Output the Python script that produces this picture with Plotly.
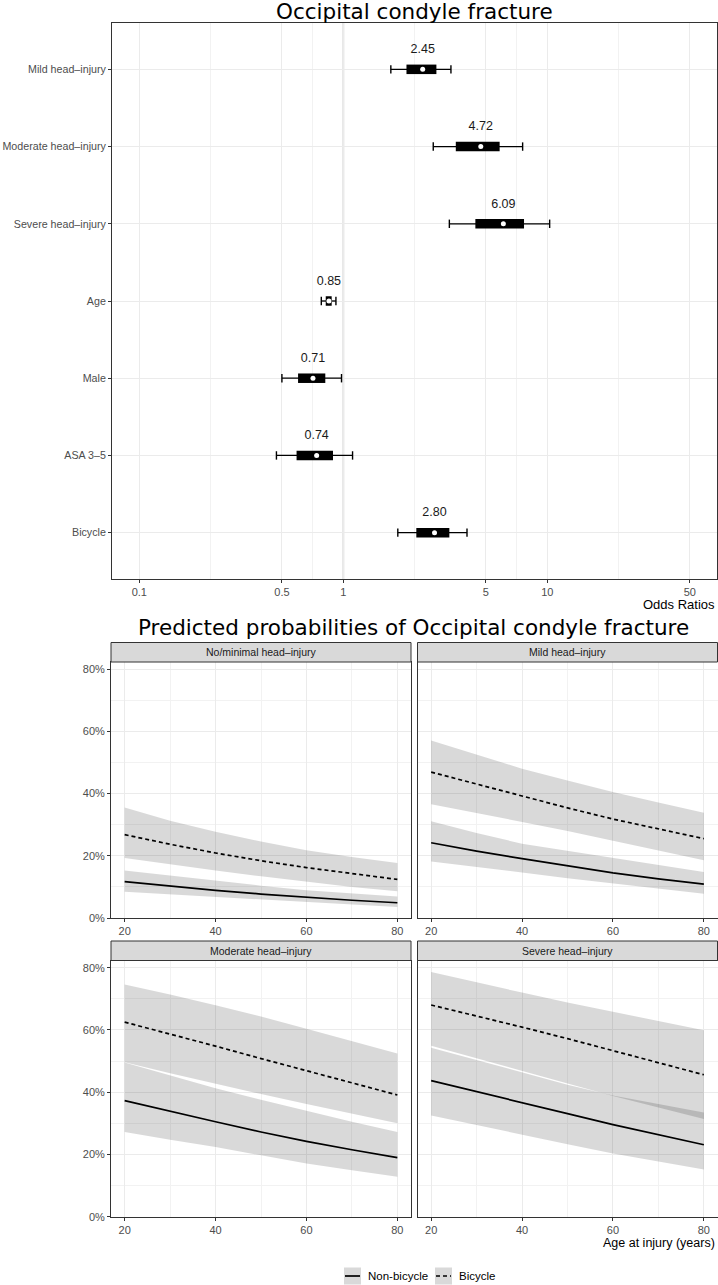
import math
import plotly.graph_objects as go

W, H = 718, 1285
SANS = "Liberation Sans, Arial, Helvetica, sans-serif"
TITLEFONT = "DejaVu Sans, Verdana, sans-serif"

# ---------------- Forest plot data (odds ratios) ----------------
terms = ["Mild head–injury", "Moderate head–injury", "Severe head–injury",
         "Age", "Male", "ASA 3–5", "Bicycle"]
odds_ratio = [2.45, 4.72, 6.09, 0.85, 0.71, 0.74, 2.80]
ci95_low = [1.71, 2.76, 3.31, 0.78, 0.50, 0.47, 1.85]
ci95_high = [3.37, 7.57, 10.27, 0.92, 0.98, 1.11, 4.04]
ci50_low = [2.04, 3.56, 4.44, 0.82, 0.60, 0.59, 2.28]
ci50_high = [2.86, 5.84, 7.69, 0.877, 0.816, 0.89, 3.31]
or_ticks = [0.1, 0.5, 1, 5, 10, 50]
or_ticklabels = ["0.1", "0.5", "1", "5", "10", "50"]
REF_OR = 1

# ---------------- Predicted probabilities (%) ----------------
ages = [20, 30, 40, 50, 60, 70, 80]
panel_titles = ["No/minimal head–injury", "Mild head–injury",
                "Moderate head–injury", "Severe head–injury"]

nomin_nb = [11.7, 10.2, 8.9, 7.7, 6.6, 5.7, 4.9]
nomin_nb_lo = [8.4, 7.4, 6.6, 5.8, 5.1, 4.3, 3.5]
nomin_nb_hi = [15.3, 13.6, 12.1, 10.4, 8.9, 7.9, 6.9]
nomin_bi = [26.8, 23.7, 20.9, 18.4, 16.2, 14.2, 12.4]
nomin_bi_lo = [19.3, 17.2, 15.3, 13.4, 11.6, 10.0, 8.6]
nomin_bi_hi = [35.5, 31.3, 27.7, 24.6, 21.8, 19.6, 17.7]

mild_nb = [24.2, 21.5, 19.1, 16.7, 14.5, 12.6, 10.9]
mild_nb_lo = [18.2, 16.3, 14.6, 12.8, 11.1, 9.4, 7.8]
mild_nb_hi = [31.1, 27.3, 23.9, 21.6, 19.4, 17.0, 14.8]
mild_bi = [46.9, 43.0, 39.1, 35.4, 31.8, 28.6, 25.5]
mild_bi_lo = [36.6, 33.7, 30.9, 28.0, 25.0, 21.8, 18.6]
mild_bi_hi = [57.1, 52.5, 48.0, 44.2, 40.5, 37.1, 33.8]

mod_nb = [37.3, 33.8, 30.5, 27.2, 24.2, 21.5, 19.0]
mod_nb_lo = [27.2, 24.7, 22.4, 19.7, 17.1, 14.9, 12.8]
mod_nb_hi = [49.5, 45.5, 41.3, 37.6, 34.0, 30.5, 27.2]
mod_bi = [62.5, 58.7, 54.8, 50.8, 46.9, 42.9, 39.1]
mod_bi_lo = [49.6, 46.1, 42.7, 39.4, 36.2, 33.0, 30.0]
mod_bi_hi = [74.6, 71.4, 67.9, 64.3, 60.4, 56.5, 52.4]

sev_nb = [43.7, 40.1, 36.6, 33.1, 29.6, 26.3, 23.1]
sev_nb_lo = [32.5, 29.3, 26.3, 23.3, 20.3, 17.7, 15.2]
sev_nb_hi = [54.3, 50.3, 46.3, 42.4, 38.9, 36.1, 33.5]
sev_bi = [68.0, 64.5, 60.9, 57.2, 53.3, 49.5, 45.6]
sev_bi_lo = [54.9, 50.9, 46.8, 42.8, 38.8, 35.0, 31.4]
sev_bi_hi = [78.6, 75.2, 72.0, 68.8, 65.8, 62.8, 59.9]

panel_series = [
    (nomin_nb, nomin_nb_lo, nomin_nb_hi, nomin_bi, nomin_bi_lo, nomin_bi_hi),
    (mild_nb, mild_nb_lo, mild_nb_hi, mild_bi, mild_bi_lo, mild_bi_hi),
    (mod_nb, mod_nb_lo, mod_nb_hi, mod_bi, mod_bi_lo, mod_bi_hi),
    (sev_nb, sev_nb_lo, sev_nb_hi, sev_bi, sev_bi_lo, sev_bi_hi),
]
age_ticks = [20, 40, 60, 80]
age_minor = [30, 50, 70]
prob_ticks = [0, 0.2, 0.4, 0.6, 0.8]
prob_minor = [0.1, 0.3, 0.5, 0.7]
legend_labels = ["Non-bicycle", "Bicycle"]

# ---------------- helpers ----------------
def fx(px):
    return px / W


def fy(py):
    return 1 - py / H


GRID = "#ebebeb"
GRID_MINOR = "#f2f2f2"
BORDER = "#333333"
TICKTXT = "#4d4d4d"

fig = go.Figure()

# ---------------- Forest plot ----------------
rows = [len(terms) - i for i in range(len(terms))]

wx, wy, bx, by = [], [], [], []
for r, lo, hi, blo, bhi in zip(rows, ci95_low, ci95_high, ci50_low, ci50_high):
    wx += [lo, hi, None]
    wy += [r, r, None]
    bx += [blo, bhi, None]
    by += [r, r, None]

fig.add_trace(go.Scatter(x=wx, y=wy, mode="lines", line=dict(color="black", width=1.3),
                         xaxis="x", yaxis="y", showlegend=False, hoverinfo="skip"))
fig.add_trace(go.Scatter(x=ci95_low + ci95_high, y=rows + rows, mode="markers",
                         marker=dict(symbol="line-ns", size=6, color="black",
                                     line=dict(color="black", width=1.4)),
                         xaxis="x", yaxis="y", showlegend=False, hoverinfo="skip"))
fig.add_trace(go.Scatter(x=bx, y=by, mode="lines", line=dict(color="black", width=9.5),
                         xaxis="x", yaxis="y", showlegend=False, hoverinfo="skip"))
fig.add_trace(go.Scatter(x=odds_ratio, y=rows, mode="markers",
                         marker=dict(symbol="circle", size=5, color="white"),
                         xaxis="x", yaxis="y", showlegend=False,
                         hovertemplate="%{x:.2f}<extra></extra>"))
fig.add_trace(go.Scatter(x=odds_ratio, y=[r + 0.25 for r in rows], mode="text",
                         text=[f"{v:.2f}" for v in odds_ratio],
                         textfont=dict(family=SANS, size=12.5, color="#1a1a1a"),
                         xaxis="x", yaxis="y", showlegend=False, hoverinfo="skip"))

or_minor = [math.sqrt(a * b) for a, b in zip(or_ticks[:-1], or_ticks[1:])]

axis_common = dict(showline=True, mirror=True, linecolor=BORDER, linewidth=1,
                   ticks="outside", ticklen=3, tickcolor=BORDER, tickwidth=1,
                   gridcolor=GRID, gridwidth=1, zeroline=False, automargin=False,
                   tickfont=dict(family=SANS, size=11, color=TICKTXT))

layout = dict(
    width=W, height=H,
    margin=dict(l=0, r=0, t=0, b=0, pad=0),
    paper_bgcolor="white", plot_bgcolor="white",
    showlegend=False,
)
layout["xaxis"] = dict(axis_common, domain=[fx(112), fx(717)], anchor="y", type="log",
                       range=[-1.134, 1.832], tickvals=or_ticks, ticktext=or_ticklabels,
                       minor=dict(tickvals=or_minor, showgrid=True, gridcolor=GRID_MINOR,
                                  gridwidth=1, ticks=""))
layout["yaxis"] = dict(axis_common, domain=[fy(579), fy(23)], anchor="x",
                       range=[0.4, len(terms) + 0.6], tickvals=rows, ticktext=terms,
                       tickfont=dict(family=SANS, size=10.7, color=TICKTXT))

shapes = [dict(type="line", xref="x", yref="y domain", x0=REF_OR, x1=REF_OR, y0=0, y1=1,
               line=dict(color="#dedede", width=2), layer="below")]

annotations = [
    dict(text="Occipital condyle fracture", x=fx(414.5), y=fy(11.5), xref="paper", yref="paper",
         xanchor="center", yanchor="middle", showarrow=False,
         font=dict(family=TITLEFONT, size=21.5, color="black")),
    dict(text="Odds Ratios", x=fx(717), y=fy(604), xref="paper", yref="paper",
         xanchor="right", yanchor="middle", showarrow=False,
         font=dict(family=SANS, size=13, color="black")),
    dict(text="Predicted probabilities of Occipital condyle fracture", x=fx(414), y=fy(627),
         xref="paper", yref="paper", xanchor="center", yanchor="middle", showarrow=False,
         font=dict(family=TITLEFONT, size=21.5, color="black")),
    dict(text="Age at injury (years)", x=fx(717), y=fy(1243), xref="paper", yref="paper",
         xanchor="right", yanchor="middle", showarrow=False,
         font=dict(family=SANS, size=12.5, color="black")),
]

# ---------------- Facet panels ----------------
col_px = [(111, 411), (417.5, 717.5)]
row_px = [(662, 918), (960.5, 1216.7)]
strip_h = 19.5
RIBBON = "rgba(0,0,0,0.15)"

for i, (title, series) in enumerate(zip(panel_titles, panel_series)):
    n = i + 2
    c, r = i % 2, i // 2
    xa, ya = f"x{n}", f"y{n}"
    x0, x1 = col_px[c]
    y0, y1 = row_px[r]
    nb, nb_lo, nb_hi, bi, bi_lo, bi_hi = series

    for hi, lo in ((nb_hi, nb_lo), (bi_hi, bi_lo)):
        fig.add_trace(go.Scatter(x=ages + ages[::-1],
                                 y=[v / 100 for v in hi] + [v / 100 for v in lo[::-1]],
                                 mode="lines", fill="toself", fillcolor=RIBBON,
                                 line=dict(width=0), xaxis=xa, yaxis=ya,
                                 showlegend=False, hoverinfo="skip"))
    fig.add_trace(go.Scatter(x=ages, y=[v / 100 for v in nb], mode="lines",
                             line=dict(color="black", width=1.7),
                             xaxis=xa, yaxis=ya, name=legend_labels[0], showlegend=False))
    fig.add_trace(go.Scatter(x=ages, y=[v / 100 for v in bi], mode="lines",
                             line=dict(color="black", width=1.7, dash="4px,3px"),
                             xaxis=xa, yaxis=ya, name=legend_labels[1], showlegend=False))

    layout[f"xaxis{n}"] = dict(axis_common, domain=[fx(x0), min(1, fx(x1))], anchor=ya,
                               range=[17, 83], tickvals=age_ticks,
                               minor=dict(tickvals=age_minor, showgrid=True,
                                          gridcolor=GRID_MINOR, gridwidth=1, ticks=""))
    ycfg = dict(axis_common, domain=[fy(y1), fy(y0)], anchor=xa, range=[0, 0.823],
                tickvals=prob_ticks, tickformat=".0%",
                minor=dict(tickvals=prob_minor, showgrid=True, gridcolor=GRID_MINOR,
                           gridwidth=1, ticks=""))
    if c == 1:
        ycfg.update(showticklabels=False, ticks="")
    layout[f"yaxis{n}"] = ycfg

    shapes.append(dict(type="rect", xref="paper", yref="paper",
                       x0=fx(x0), x1=min(1, fx(x1)), y0=fy(y0), y1=fy(y0 - strip_h),
                       fillcolor="#d9d9d9", line=dict(color=BORDER, width=1), layer="above"))
    annotations.append(dict(text=title, x=fx((x0 + x1) / 2), y=fy(y0 - strip_h / 2),
                            xref="paper", yref="paper", xanchor="center", yanchor="middle",
                            showarrow=False, font=dict(family=SANS, size=10.5, color="#1a1a1a")))

# ---------------- Legend (keys drawn as shapes) ----------------
key_left = [344, 435]
text_left = [366, 457]
key_dash = ["solid", "4px,3px"]
ly = 1276
for kl, tl, lab, dsh in zip(key_left, text_left, legend_labels, key_dash):
    shapes.append(dict(type="rect", xref="paper", yref="paper",
                       x0=fx(kl), x1=fx(kl + 17), y0=fy(ly + 8.5), y1=fy(ly - 8.5),
                       fillcolor="#d9d9d9", line=dict(width=0)))
    shapes.append(dict(type="line", xref="paper", yref="paper",
                       x0=fx(kl + 1), x1=fx(kl + 16), y0=fy(ly), y1=fy(ly),
                       line=dict(color="black", width=1.7, dash=dsh)))
    annotations.append(dict(text=lab, x=fx(tl), y=fy(ly), xref="paper", yref="paper",
                            xanchor="left", yanchor="middle", showarrow=False,
                            font=dict(family=SANS, size=11.5, color="black")))

layout["shapes"] = shapes
layout["annotations"] = annotations
fig.update_layout(**layout)
fig.write_html("out.html",
               config={"displayModeBar": False},
               post_script="document.body.style.margin='0px';"
                           "document.body.style.overflow='hidden';")
